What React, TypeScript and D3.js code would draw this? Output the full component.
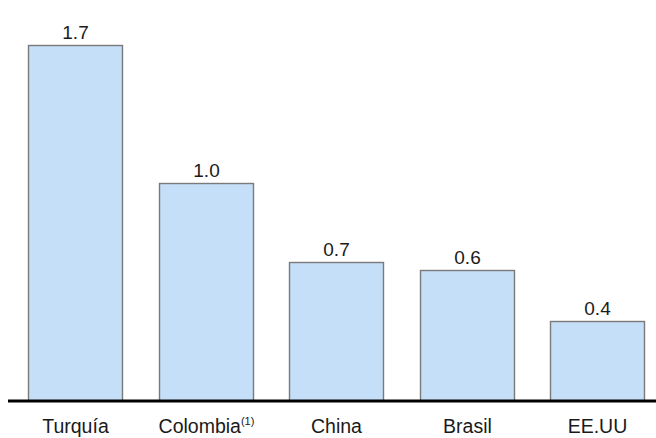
import React from "react";
import * as d3 from "d3";

const categories = ["Turquía", "Colombia", "China", "Brasil", "EE.UU"];
const superscripts = ["", "(1)", "", "", ""];
const values = [1.7, 1.04, 0.665, 0.627, 0.383];
const valueLabels = ["1.7", "1.0", "0.7", "0.6", "0.4"];

const W = 656;
const H = 438;
const baseY = 401;

export default function App() {
  const x = d3.scaleBand<string>().domain(categories).range([9.7, 662.7]).paddingInner(0.28).paddingOuter(0.14);
  const y = d3.scaleLinear().domain([0, 1.7]).range([baseY, 45]);
  const font = "Arial, 'Liberation Sans', sans-serif";
  return (
    <svg width={W} height={H} style={{ position: "absolute", left: 0, top: 0, background: "#fff" }}>
      {categories.map((c, i) => {
        const x0 = Math.round(x(c)!) + 0.5;
        const bw = Math.round(x.bandwidth());
        const yt = Math.round(y(values[i])) + 0.5;
        return (
          <g key={c}>
            <rect x={x0} y={yt} width={bw} height={baseY - yt} fill="#c6dff9" stroke="#7a7a7a" strokeWidth={1.4} />
            <text x={x0 + bw / 2} y={yt - 7} textAnchor="middle" fontFamily={font} fontSize={19} fill="#1a1a1a">
              {valueLabels[i]}
            </text>
            <text x={x0 + bw / 2} y={433} textAnchor="middle" fontFamily={font} fontSize={19.5} fill="#1a1a1a">
              {c}
              {superscripts[i] && (
                <tspan fontSize={11} dy={-8}>{superscripts[i]}</tspan>
              )}
            </text>
          </g>
        );
      })}
      <line x1={8} x2={656} y1={401} y2={401} stroke="#000" strokeWidth={3} />
    </svg>
  );
}
